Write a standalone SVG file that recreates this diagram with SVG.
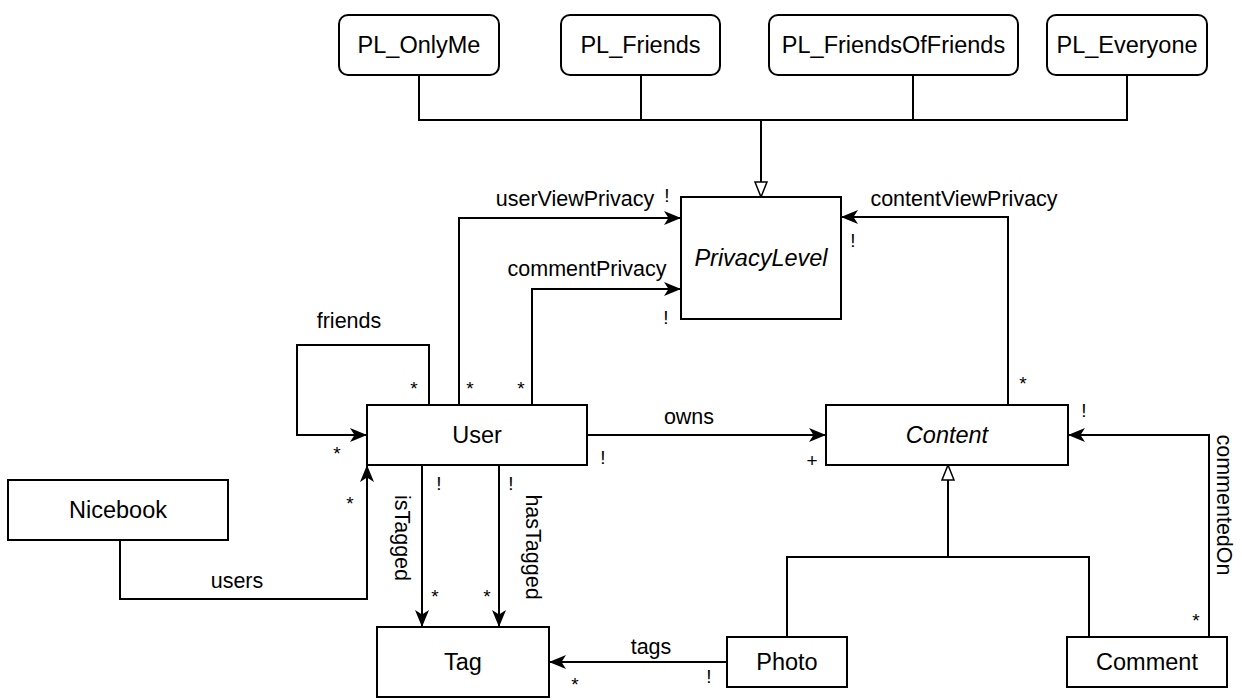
<svg xmlns="http://www.w3.org/2000/svg" width="1242" height="700" viewBox="0 0 1242 700">
<style>
.box{fill:#fff;stroke:#000;stroke-width:2}
.nl{font-family:"Liberation Sans",Arial,sans-serif;font-size:23.5px;text-anchor:middle;dominant-baseline:central;fill:#000}
.it{font-style:italic}
.el{font-family:"Liberation Sans",Arial,sans-serif;font-size:21.5px;fill:#000}
.m{font-family:"Liberation Sans",Arial,sans-serif;font-size:19px;fill:#000;text-anchor:middle;dominant-baseline:central}
.c{fill:none;stroke:#000;stroke-width:2}
</style>
<defs>
<marker id="arr" markerWidth="20" markerHeight="16" refX="17" refY="8" orient="auto" markerUnits="userSpaceOnUse"><path d="M0,1 L17,8 L0,15 L4.5,8 Z" fill="#000"/></marker>
<marker id="tri" markerWidth="18" markerHeight="16" refX="16" refY="7" orient="auto" markerUnits="userSpaceOnUse"><path d="M1,1 L16,7 L1,13 Z" fill="#fff" stroke="#000" stroke-width="1.5"/></marker>
</defs>
<rect width="1242" height="700" fill="#fff"/>
<g id="connectors">
<path class="c" d="M419,75 V120 H1127 V75"/>
<path class="c" d="M641,75 V120"/>
<path class="c" d="M913,75 V120"/>
<path class="c" d="M761,120 V197" marker-end="url(#tri)"/>
<path class="c" d="M459,405 V218 H681" marker-end="url(#arr)"/>
<path class="c" d="M532,405 V289 H681" marker-end="url(#arr)"/>
<path class="c" d="M429,405 V345 H297 V435 H367" marker-end="url(#arr)"/>
<path class="c" d="M587,435 H826" marker-end="url(#arr)"/>
<path class="c" d="M1008,405 V217 H841" marker-end="url(#arr)"/>
<path class="c" d="M1209,637 V435 H1068" marker-end="url(#arr)"/>
<path class="c" d="M787,637 V557 H1089 V637"/>
<path class="c" d="M948,557 V465" marker-end="url(#tri)"/>
<path class="c" d="M727,662 H549" marker-end="url(#arr)"/>
<path class="c" d="M120,540 V599 H367 V465" marker-end="url(#arr)"/>
<path class="c" d="M422,465 V627" marker-end="url(#arr)"/>
<path class="c" d="M499,465 V627" marker-end="url(#arr)"/>
<text class="el" x="575" y="206" text-anchor="middle">userViewPrivacy</text>
<text class="el" x="587" y="276" text-anchor="middle">commentPrivacy</text>
<text class="el" x="349" y="328" text-anchor="middle">friends</text>
<text class="el" x="689" y="424" text-anchor="middle">owns</text>
<text class="el" x="964" y="206" text-anchor="middle">contentViewPrivacy</text>
<text class="el" x="651" y="654" text-anchor="middle">tags</text>
<text class="el" x="237" y="588" text-anchor="middle">users</text>
<text class="el" transform="translate(402,538) rotate(90)" text-anchor="middle" dominant-baseline="central">isTagged</text>
<text class="el" transform="translate(533,547) rotate(90)" text-anchor="middle" dominant-baseline="central">hasTagged</text>
<text class="el" transform="translate(1224,505) rotate(90)" text-anchor="middle" dominant-baseline="central">commentedOn</text>
<text class="m" x="667" y="195">!</text>
<text class="m" x="666" y="317">!</text>
<text class="m" x="853" y="240">!</text>
<text class="m" x="1023" y="383">*</text>
<text class="m" x="414" y="388">*</text>
<text class="m" x="470" y="388">*</text>
<text class="m" x="521" y="388">*</text>
<text class="m" x="337" y="453">*</text>
<text class="m" x="603" y="457">!</text>
<text class="m" x="812" y="460">+</text>
<text class="m" x="1084" y="410">!</text>
<text class="m" x="1196" y="620">*</text>
<text class="m" x="350" y="503">*</text>
<text class="m" x="439" y="483">!</text>
<text class="m" x="511" y="483">!</text>
<text class="m" x="435" y="596">*</text>
<text class="m" x="487" y="596">*</text>
<text class="m" x="709" y="676">!</text>
<text class="m" x="575" y="684">*</text>
</g>
<g id="PL_OnlyMe"><rect class="box" x="339" y="15" width="160" height="60" rx="9"/><text class="nl" x="419" y="45">PL_OnlyMe</text></g>
<g id="PL_Friends"><rect class="box" x="561" y="15" width="159" height="60" rx="9"/><text class="nl" x="640.5" y="45">PL_Friends</text></g>
<g id="PL_FriendsOfFriends"><rect class="box" x="769" y="15" width="249" height="60" rx="9"/><text class="nl" x="893.5" y="45">PL_FriendsOfFriends</text></g>
<g id="PL_Everyone"><rect class="box" x="1047" y="15" width="160" height="60" rx="9"/><text class="nl" x="1127" y="45">PL_Everyone</text></g>
<g id="PrivacyLevel"><rect class="box" x="681" y="197" width="160" height="122"/><text class="nl it" x="761" y="258">PrivacyLevel</text></g>
<g id="User"><rect class="box" x="367" y="405" width="220" height="60"/><text class="nl" x="477" y="435">User</text></g>
<g id="Content"><rect class="box" x="826" y="405" width="242" height="60"/><text class="nl it" x="947" y="435">Content</text></g>
<g id="Nicebook"><rect class="box" x="8" y="480" width="220" height="60"/><text class="nl" x="118" y="510">Nicebook</text></g>
<g id="Tag"><rect class="box" x="377" y="627" width="172" height="70"/><text class="nl" x="463" y="662">Tag</text></g>
<g id="Photo"><rect class="box" x="727" y="637" width="120" height="50"/><text class="nl" x="787" y="662">Photo</text></g>
<g id="Comment"><rect class="box" x="1067" y="637" width="160" height="50"/><text class="nl" x="1147" y="662">Comment</text></g>
</svg>
